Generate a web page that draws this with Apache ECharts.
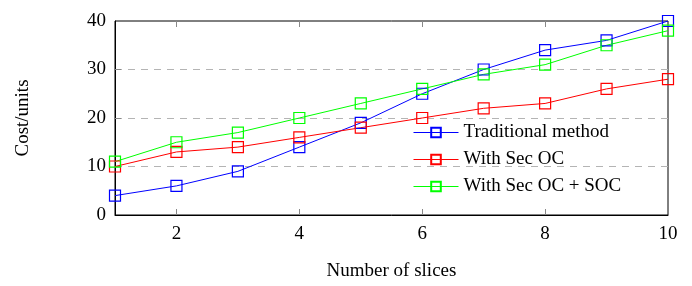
<!DOCTYPE html>
<html>
<head>
<meta charset="utf-8">
<script src="https://cdn.jsdelivr.net/npm/echarts@6/dist/echarts.min.js"></script>
<style>
  html, body { margin: 0; padding: 0; background: #fff; }
  #chart { width: 692px; height: 286px; }
</style>
</head>
<body>
<div id="chart"></div>
<script>
// 数据
var slices = [1, 2, 3, 4, 5, 6, 7, 8, 9, 10];
var traditional = [4, 6, 9, 14, 19, 25, 30, 34, 36, 40];
var withSecOC = [10, 13, 14, 16, 18, 20, 22, 23, 26, 28];
var withSecOCSOC = [11, 15, 17, 20, 23, 26, 29, 31, 35, 38];
var seriesNames = ['Traditional method', 'With Sec OC', 'With Sec OC + SOC'];
var seriesColors = ['#0000ff', '#ff0000', '#00ff00'];
var xTicks = [2, 4, 6, 8, 10];
var yTicks = [0, 10, 20, 30, 40];

var font = 'Liberation Serif';
var fs = 19;

function pairs(ys) {
  return slices.map(function (x, i) { return [x, ys[i]]; });
}

function makeSeries(name, data, color) {
  return {
    name: name,
    type: 'line',
    data: pairs(data),
    symbol: 'rect',
    symbolSize: 11,
    lineStyle: { color: color, width: 1 },
    itemStyle: { color: 'rgba(0,0,0,0)', borderColor: color, borderWidth: 1.2 },
    emphasis: { disabled: true },
    z: 3
  };
}

var chart = echarts.init(document.getElementById('chart'));
chart.setOption({
  animation: false,
  backgroundColor: '#fff',
  textStyle: { fontFamily: font },
  grid: {
    left: 115, right: 24, top: 21, bottom: 70,
    show: true, borderColor: '#000', borderWidth: 1
  },
  legend: {
    orient: 'vertical',
    left: 408,
    top: 118,
    itemWidth: 45,
    itemHeight: 12,
    itemGap: 8,
    textStyle: { fontFamily: font, fontSize: fs, color: '#000' },
    data: seriesNames.map(function (n, i) {
      return { name: n, lineStyle: { color: seriesColors[i], width: 1 } };
    })
  },
  xAxis: [{
    type: 'value',
    min: 1,
    max: 10,
    name: 'Number of slices',
    nameLocation: 'middle',
    nameGap: 47,
    nameTextStyle: { fontFamily: font, fontSize: fs, color: '#000' },
    axisLine: { lineStyle: { color: '#000' } },
    axisTick: { inside: true, length: 6, lineStyle: { color: '#888' },
      customValues: xTicks.slice(0, 4) },
    axisLabel: { fontFamily: font, fontSize: fs, color: '#000', margin: 10,
      customValues: xTicks },
    splitLine: { show: false }
  }, {
    type: 'value',
    position: 'top',
    min: 1,
    max: 10,
    axisLine: { show: false },
    axisTick: { inside: true, length: 6, lineStyle: { color: '#888' },
      customValues: xTicks.slice(0, 4) },
    axisLabel: { show: false },
    splitLine: { show: false }
  }],
  yAxis: [{
    type: 'value',
    min: 0,
    max: 40,
    interval: 10,
    name: 'Cost/units',
    nameLocation: 'middle',
    nameGap: 82,
    nameTextStyle: { fontFamily: font, fontSize: fs, color: '#000' },
    axisLine: { show: true, lineStyle: { color: '#000' } },
    axisTick: { show: true, inside: true, length: 6, lineStyle: { color: '#888' },
      customValues: yTicks.slice(1, 4) },
    axisLabel: { fontFamily: font, fontSize: fs, color: '#000', margin: 9,
      customValues: yTicks },
    splitLine: { show: true, lineStyle: { color: '#b4b4b4', type: [7, 6], width: 1 } }
  }],
  series: [
    makeSeries(seriesNames[0], traditional, seriesColors[0]),
    makeSeries(seriesNames[1], withSecOC, seriesColors[1]),
    makeSeries(seriesNames[2], withSecOCSOC, seriesColors[2])
  ]
});
</script>
</body>
</html>
